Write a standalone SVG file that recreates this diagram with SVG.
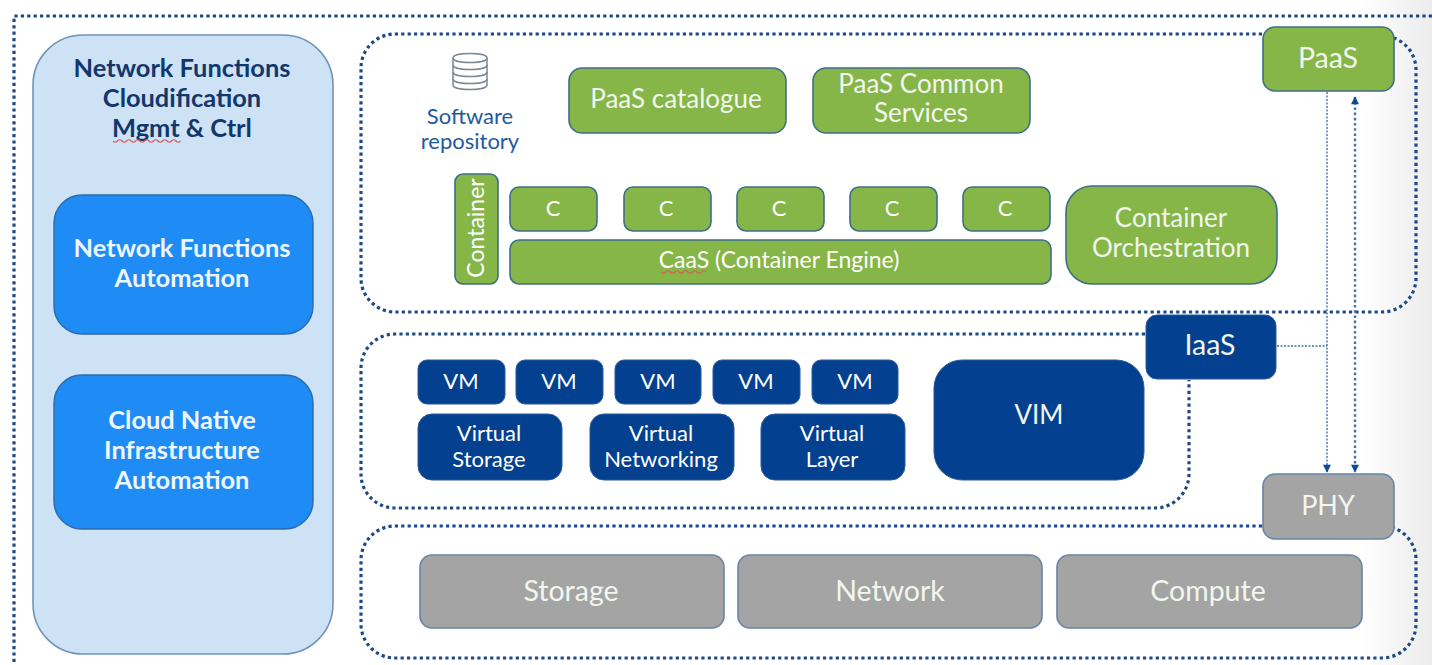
<svg xmlns="http://www.w3.org/2000/svg" width="1432" height="665" viewBox="0 0 1432 665">
<defs>
<linearGradient id="edge" x1="0" x2="1" y1="0" y2="0"><stop offset="0" stop-color="#ffffff"/><stop offset="1" stop-color="#ececec"/></linearGradient>
<marker id="arr" viewBox="0 0 10 10" refX="9" refY="5" markerWidth="9" markerHeight="8" markerUnits="userSpaceOnUse" orient="auto-start-reverse"><path d="M0 0L10 5L0 10Z" fill="#0a4a96"/></marker>
</defs>
<style>
text{font-family:"Lato","Noto Sans","Liberation Sans",sans-serif;text-anchor:middle;fill:#f2f6ee;font-size:26px}
.dot{fill:none;stroke:#1c4a86;stroke-width:3.2;stroke-dasharray:3.2 3.2}
.g{fill:#86b648;stroke:#3f6f86;stroke-width:1.6}
.b{fill:#03408f;stroke:#2a5a9a;stroke-width:1}
.a{fill:#a4a4a4;stroke:#6684a8;stroke-width:1.6}
.l{fill:#1f8bf5;stroke:#2d6aa8;stroke-width:1.4}
.h{fill:#12376d;font-weight:700;font-size:25.4px}
.w{fill:#eef6ff;font-weight:700;font-size:25.4px}
.s{fill:#fff;font-size:22px}
.r{fill:#1f5a9e;font-size:22px}
.t{font-size:28.5px}
.lnk{fill:none;stroke:#3f74b0;stroke-width:1.4;stroke-dasharray:2 1.5}
.lnk2{fill:none;stroke:#3f74b0;stroke-width:2.4;stroke-dasharray:2.6 2.6}
.sq{fill:none;stroke:#e0585c;stroke-width:1.2}
</style>
<rect x="1360" y="0" width="72" height="665" fill="url(#edge)"/>
<g id="boundaries">
<path class="dot" d="M1432 16H14V665"/>
<path class="dot" d="M1262 34H395a34 34 0 0 0-34 34V278a34 34 0 0 0 34 34H1382a34 34 0 0 0 34-34V70a34 34 0 0 0-22-32"/>
<path class="dot" d="M1145 334H395a34 34 0 0 0-34 34V474a34 34 0 0 0 34 34H1155a34 34 0 0 0 34-34V380"/>
<path class="dot" d="M1262 526H395a34 34 0 0 0-34 34V624a34 34 0 0 0 34 34H1382a34 34 0 0 0 34-34V560a34 34 0 0 0-22-32"/>
</g>
<g id="connectors">
<path class="lnk" d="M1327 92V472" marker-end="url(#arr)"/>
<path class="lnk" d="M1277 346H1327"/>
<path class="lnk2" d="M1355 97V472" marker-start="url(#arr)" marker-end="url(#arr)"/>
</g>
<g id="nf-mgmt">
<rect x="33" y="35" width="300" height="619" rx="50" fill="#cde2f4" stroke="#6f94b8" stroke-width="1.6"/>
<text class="h" x="182" y="77">Network Functions</text>
<text class="h" x="182" y="107">Cloudification</text>
<text class="h" x="182" y="137">Mgmt &amp; Ctrl</text>
<path class="sq" d="M113 141q2.300 2.500 4.500 0t4.500 0t4.500 0t4.500 0t4.500 0t4.500 0t4.500 0t4.500 0t4.500 0t4.500 0t4.500 0t4.500 0t4.500 0t4.500 0t4.500 0"/>
</g>
<g id="nf-automation">
<rect class="l" x="54" y="195" width="259" height="139" rx="28"/>
<text class="w" x="182" y="257">Network Functions</text>
<text class="w" x="182" y="287">Automation</text>
</g>
<g id="cn-automation">
<rect class="l" x="54" y="375" width="259" height="154" rx="28"/>
<text class="w" x="182" y="429">Cloud Native</text>
<text class="w" x="182" y="459">Infrastructure</text>
<text class="w" x="182" y="489">Automation</text>
</g>
<g id="software-repository">
<g fill="#fff" stroke="#7c8794" stroke-width="1.5">
<path d="M453 58c0-6 34-6 34 0v27c0 6-34 6-34 0z"/>
<path d="M453 58c0 6 34 6 34 0M453 65c0 6 34 6 34 0M453 72c0 6 34 6 34 0M453 79c0 6 34 6 34 0" fill="none"/>
</g>
<text class="r" x="470" y="124">Software</text>
<text class="r" x="470" y="149">repository</text>
</g>
<g id="paas-catalogue"><rect class="g" x="569" y="68" width="217" height="65" rx="13"/><text x="676" y="108">PaaS catalogue</text></g>
<g id="paas-common"><rect class="g" x="813" y="68" width="217" height="65" rx="13"/><text x="921" y="93">PaaS Common</text><text x="921" y="122">Services</text></g>
<g id="paas"><rect class="g" x="1263" y="27" width="131" height="64" rx="12"/><text class="t" x="1328" y="68">PaaS</text></g>
<g id="container"><rect class="g" x="455" y="174" width="43" height="110" rx="8"/><text class="s" style="font-size:23px" transform="translate(484 228) rotate(-90)">Container</text></g>
<g id="c1"><rect class="g" x="510" y="187" width="87" height="44" rx="9"/><text class="s" x="553" y="216">C</text></g>
<g id="c2"><rect class="g" x="624" y="187" width="87" height="44" rx="9"/><text class="s" x="666" y="216">C</text></g>
<g id="c3"><rect class="g" x="737" y="187" width="87" height="44" rx="9"/><text class="s" x="779" y="216">C</text></g>
<g id="c4"><rect class="g" x="850" y="187" width="87" height="44" rx="9"/><text class="s" x="892" y="216">C</text></g>
<g id="c5"><rect class="g" x="963" y="187" width="87" height="44" rx="9"/><text class="s" x="1005" y="216">C</text></g>
<g id="caas"><rect class="g" x="510" y="240" width="541" height="44" rx="9"/><text class="s" style="font-size:23px" x="779" y="268">CaaS (Container Engine)</text>
<path class="sq" d="M661 272q2.300 2.500 4.500 0t4.500 0t4.500 0t4.500 0t4.500 0t4.500 0t4.500 0t4.500 0t4.500 0t4.500 0"/></g>
<g id="orchestration"><rect class="g" x="1066" y="186" width="211" height="98" rx="26"/><text x="1171" y="227">Container</text><text x="1171" y="257">Orchestration</text></g>
<g id="iaas"><rect class="b" x="1146" y="315" width="130" height="64" rx="11"/><text class="t" x="1210" y="355">IaaS</text></g>
<g id="vm1"><rect class="b" x="418" y="360" width="87" height="44" rx="9"/><text class="s" x="461" y="389">VM</text></g>
<g id="vm2"><rect class="b" x="516" y="360" width="87" height="44" rx="9"/><text class="s" x="559" y="389">VM</text></g>
<g id="vm3"><rect class="b" x="615" y="360" width="86" height="44" rx="9"/><text class="s" x="658" y="389">VM</text></g>
<g id="vm4"><rect class="b" x="713" y="360" width="87" height="44" rx="9"/><text class="s" x="756" y="389">VM</text></g>
<g id="vm5"><rect class="b" x="812" y="360" width="86" height="44" rx="9"/><text class="s" x="855" y="389">VM</text></g>
<g id="virtual-storage"><rect class="b" x="418" y="414" width="144" height="66" rx="14"/><text class="s" x="489" y="441">Virtual</text><text class="s" x="489" y="467">Storage</text></g>
<g id="virtual-networking"><rect class="b" x="590" y="414" width="144" height="66" rx="14"/><text class="s" x="661" y="441">Virtual</text><text class="s" x="661" y="467">Networking</text></g>
<g id="virtual-layer"><rect class="b" x="761" y="414" width="144" height="66" rx="14"/><text class="s" x="832" y="441">Virtual</text><text class="s" x="832" y="467">Layer</text></g>
<g id="vim"><rect class="b" x="934" y="360" width="210" height="120" rx="28"/><text x="1039" y="424">VIM</text></g>
<g id="phy"><rect class="a" x="1263" y="474" width="131" height="65" rx="12"/><text style="font-size:27px" x="1328" y="515">PHY</text></g>
<g id="storage"><rect class="a" x="420" y="555" width="304" height="73" rx="12"/><text class="t" x="571" y="601">Storage</text></g>
<g id="network"><rect class="a" x="738" y="555" width="304" height="73" rx="12"/><text class="t" x="890" y="601">Network</text></g>
<g id="compute"><rect class="a" x="1057" y="555" width="305" height="73" rx="12"/><text class="t" x="1208" y="601">Compute</text></g>
</svg>
